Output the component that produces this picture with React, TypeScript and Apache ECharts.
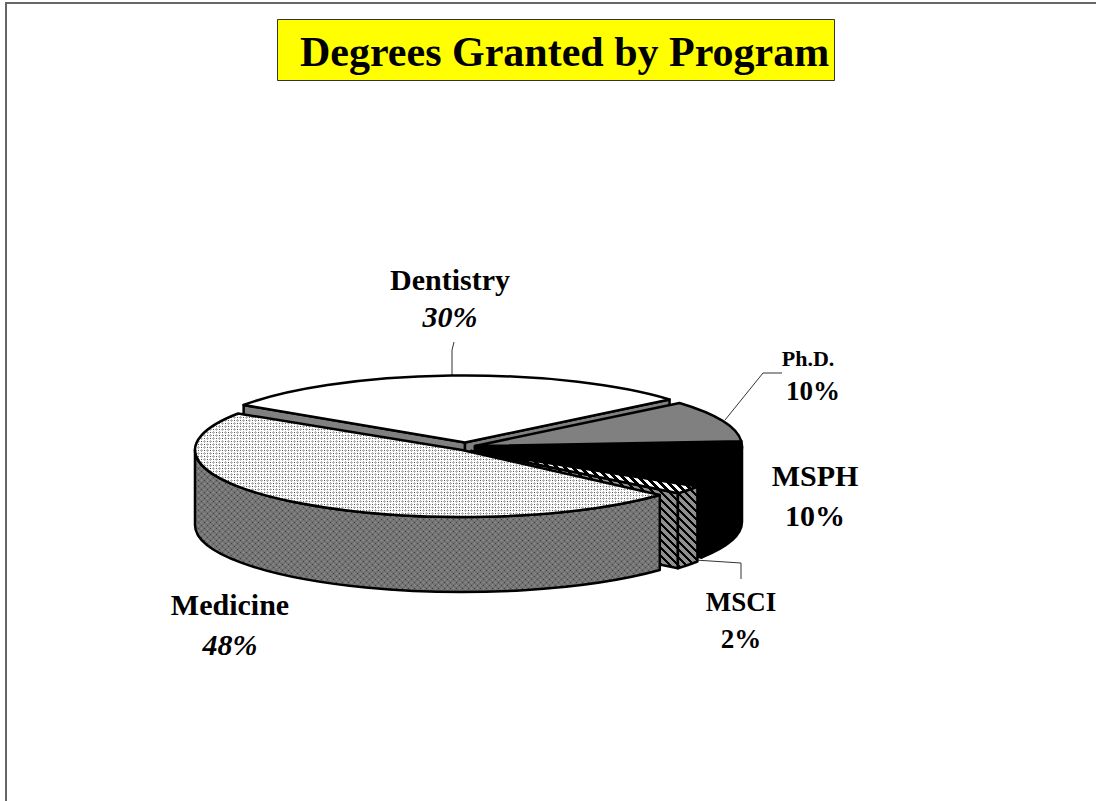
import React, { useEffect, useRef } from "react";
import * as echarts from "echarts";

const programs = ["Dentistry", "Ph.D.", "MSPH", "MSCI", "Medicine"];
const shares = [30, 10, 10, 2, 48];
const sliceCentres = [[465, 442.5], [475, 446], [475, 447], [471, 451], [462, 450]];
const startNudge = [2, 0, 0, 0, 3];
const endNudge = [0, 0, 0, 0, 1];
const RX = 267, RY = 67, DEPTH = 75, START = 212;

function makePattern(size: number, paint: (c: CanvasRenderingContext2D) => void) {
  const cv = document.createElement("canvas");
  cv.width = size; cv.height = size;
  const c = cv.getContext("2d")!;
  paint(c);
  return { image: cv, repeat: "repeat", imageWidth: size, imageHeight: size };
}
function dots(bg: string, dark: string, soft: string) {
  return makePattern(6, (c) => {
    c.fillStyle = bg; c.fillRect(0, 0, 6, 6);
    c.fillStyle = soft;
    [[3, 0], [2, 0], [4, 0], [3, 1], [3, 5], [0, 3], [0, 2], [0, 4], [1, 3], [5, 3]].forEach(([x, y]) => c.fillRect(x, y, 1, 1));
    c.fillStyle = dark;
    c.fillRect(0, 0, 1, 1);
    c.fillRect(3, 3, 1, 1);
  });
}
function stripes(bg: string, fg: string, band: number) {
  const p = 8;
  return makePattern(p, (c) => {
    const d = c.createImageData(p, p);
    for (let y = 0; y < p; y++) for (let x = 0; x < p; x++) {
      const on = ((x - y + p) % p) < band;
      const col = on ? fg : bg;
      const v = parseInt(col.slice(1, 3), 16);
      const i = (y * p + x) * 4;
      d.data[i] = d.data[i + 1] = d.data[i + 2] = v; d.data[i + 3] = 255;
    }
    c.putImageData(d, 0, 0);
  });
}

export default function App() {
  const ref = useRef<HTMLDivElement>(null);
  useEffect(() => {
    const chart = echarts.init(ref.current!, undefined, { renderer: "svg" });
    const rad = (a: number) => (a * Math.PI) / 180;
    const topFill = ["#ffffff", "#808080", "#000000", stripes("#ffffff", "#000000", 4), dots("#ffffff", "#505050", "#b4b4b4")];
    const wallFill = ["#808080", "#808080", "#000000", stripes("#909090", "#000000", 3), dots("#707070", "#404040", "#848484")];

    const starts: number[] = [];
    let acc = START;
    shares.forEach((v, i) => { starts[i] = acc; acc += (v / 100) * 360; });

    const pt = (i: number, a: number, dy = 0) => {
      const [cx, cy] = sliceCentres[i];
      return [cx + RX * Math.cos(rad(a)), cy + RY * Math.sin(rad(a)) + dy];
    };
    const arc = (i: number, a0: number, a1: number, dy = 0) => {
      const p = pt(i, a1, dy);
      return `A${RX} ${RY} 0 ${Math.abs(a1 - a0) > 180 ? 1 : 0} ${a1 > a0 ? 1 : 0} ${p[0]} ${p[1]}`;
    };
    const renderItem = (params: any, api: any) => {
      const i = params.dataIndex;
      const sweep = (api.value(0) / 100) * 360;
      const a0 = starts[i] + startNudge[i];
      const a1 = starts[i] + sweep + endNudge[i];
      const [cx, cy] = sliceCentres[i];
      const children: any[] = [];
      const line = { stroke: "#000", lineWidth: 2.5, lineJoin: "round" };
      const face = (d: string, fill: any) =>
        children.push({ type: "path", shape: { pathData: d }, style: { ...line, fill } });
      const wall = (a: number) => {
        const p = pt(i, a), q = pt(i, a, DEPTH);
        face(`M${cx} ${cy}L${p[0]} ${p[1]}L${q[0]} ${q[1]}L${cx} ${cy + DEPTH}Z`, wallFill[i]);
      };
      if (Math.sin(rad(a0 - 90)) > 0) wall(a0);
      if (Math.sin(rad(a1 + 90)) > 0) wall(a1);
      // outer wall: only the front half of the rim faces the viewer
      for (const k of [0, 360]) {
        const lo = Math.max(a0, k), hi = Math.min(a1, k + 180);
        if (hi > lo) {
          const p = pt(i, lo), q = pt(i, hi, DEPTH);
          face(`M${p[0]} ${p[1]}${arc(i, lo, hi)}L${q[0]} ${q[1]}${arc(i, hi, lo, DEPTH)}Z`, wallFill[i]);
        }
      }
      const s = pt(i, a0);
      face(`M${cx} ${cy}L${s[0]} ${s[1]}${arc(i, a0, a1)}Z`, topFill[i]);
      return { type: "group", children };
    };

    const label = (text: string, x: number, y: number, size: number, italic = false) => ({
      type: "text", x, y,
      style: {
        text, fill: "#000", textAlign: "center", textVerticalAlign: "middle",
        font: `${italic ? "italic " : ""}bold ${size}px "Liberation Serif"`,
      },
    });
    const leader = (points: number[][]) => ({
      type: "polyline", shape: { points }, style: { stroke: "#333", lineWidth: 1, fill: "none" },
    });
    const pct = (n: string) => `${shares[programs.indexOf(n)]}%`;

    chart.setOption({
      animation: false,
      backgroundColor: "#ffffff",
      title: {
        text: "Degrees Granted by Program",
        left: 277, top: 19,
        backgroundColor: "#ffff00", borderColor: "#333", borderWidth: 1,
        padding: [11, 6, 7, 23],
        textStyle: { fontFamily: "Liberation Serif", fontWeight: "bold", fontSize: 42, color: "#000", lineHeight: 44 },
      },
      xAxis: { show: false }, yAxis: { show: false },
      series: [{
        type: "custom", coordinateSystem: "none", renderItem,
        silent: true,
        data: programs.map((n, i) => ({ name: n, value: [shares[i]] })),
      }],
      graphic: [
        { type: "polyline", shape: { points: [[6, 801], [6, 3], [1096, 3]] }, style: { stroke: "#666", lineWidth: 2, fill: "none" } },
        leader([[452, 376], [452, 350], [454, 342]]),
        leader([[725, 420], [763, 373], [782, 373]]),
        leader([[695, 560], [741, 563], [741, 579]]),
        label("Dentistry", 450, 279, 30),
        label(pct("Dentistry"), 450, 316, 30, true),
        label("Ph.D.", 808, 358, 22),
        label(pct("Ph.D."), 813, 391, 27),
        label("MSPH", 815, 475, 30),
        label(pct("MSPH"), 815, 515, 30),
        label("MSCI", 741, 602, 27),
        label(pct("MSCI"), 741, 639, 27),
        label("Medicine", 230, 604, 30),
        label(pct("Medicine"), 230, 644, 30, true),
      ],
    });
    return () => chart.dispose();
  }, []);
  return <div ref={ref} style={{ position: "absolute", left: 0, top: 0, width: 1096, height: 801 }} />;
}
